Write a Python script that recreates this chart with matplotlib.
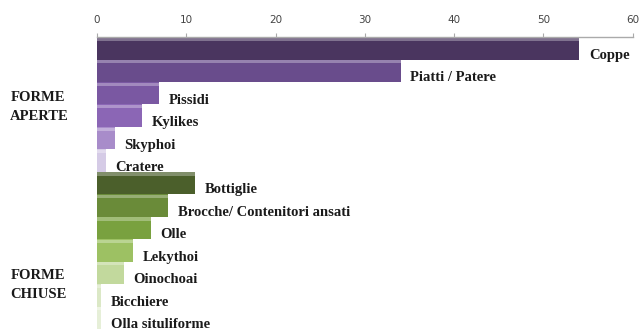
import matplotlib
matplotlib.use('Agg')
import numpy as np
from matplotlib import pyplot as plt

# categories top to bottom
labels = ['Coppe', 'Piatti / Patere', 'Pissidi', 'Kylikes', 'Skyphoi', 'Cratere',
          'Bottiglie', 'Brocche/ Contenitori ansati', 'Olle', 'Lekythoi',
          'Oinochoai', 'Bicchiere', 'Olla situliforme']
values = [54, 34, 7, 5, 2, 1, 11, 8, 6, 4, 3, 0.5, 0.5]
colors = ['#4a355f', '#694c8c', '#7a58a2', '#8b66b5', '#a88cca', '#d5cbe6',
          '#4b5f2b', '#6a8b39', '#79a13f', '#9dc163', '#c2d99d', '#dbe8c6', '#e6efd8']
groups = ['FORME\nAPERTE', 'FORME\nCHIUSE']
group_y = [107, 285]  # pixel rows from top
xticks = [0, 10, 20, 30, 40, 50, 60]

fig = plt.figure(figsize=(6.44, 3.34), dpi=100)
ax = fig.add_axes([0.1506, 0.015, 0.832, 0.874])

y = np.arange(len(labels))
ax.barh(y, values, height=1.0, color=colors, edgecolor='none')
# light stripe on top of each bar (3d look)
hl = [matplotlib.colors.to_rgba(c) for c in colors]
hl = [(r + (1 - r) * 0.3, g + (1 - g) * 0.3, b + (1 - b) * 0.3, 1) for r, g, b, a in hl]
ax.barh(y - 0.40, values, height=0.14, color=hl, edgecolor='none')

for i, (lab, v) in enumerate(zip(labels, values)):
    ax.annotate(lab, (v, i), xytext=(7, -5), textcoords='offset points',
                ha='left', va='center', fontsize=10.5, fontweight='bold',
                family='Liberation Serif', color='#1a1a1a')

for g, p in zip(groups, group_y):
    fig.text(0.016, 1 - p / 334, g, ha='left', va='center',
             fontsize=10.5, fontweight='bold', family='Liberation Serif',
             color='#1a1a1a', linespacing=1.65)

ax.set_xlim(0, 60)
ax.set_ylim(len(labels) - 0.5, -0.5)
ax.set_xticks(xticks)
ax.xaxis.tick_top()
ax.tick_params(axis='x', direction='out', length=3, color='#aaaaaa',
               labelsize=7.5, labelcolor='#444444', pad=6)
ax.set_yticks([])
for s in ['left', 'right', 'bottom']:
    ax.spines[s].set_visible(False)
ax.spines['top'].set_color('#aaaaaa')
ax.spines['top'].set_linewidth(1.0)

fig.savefig('out.png', dpi=100)
